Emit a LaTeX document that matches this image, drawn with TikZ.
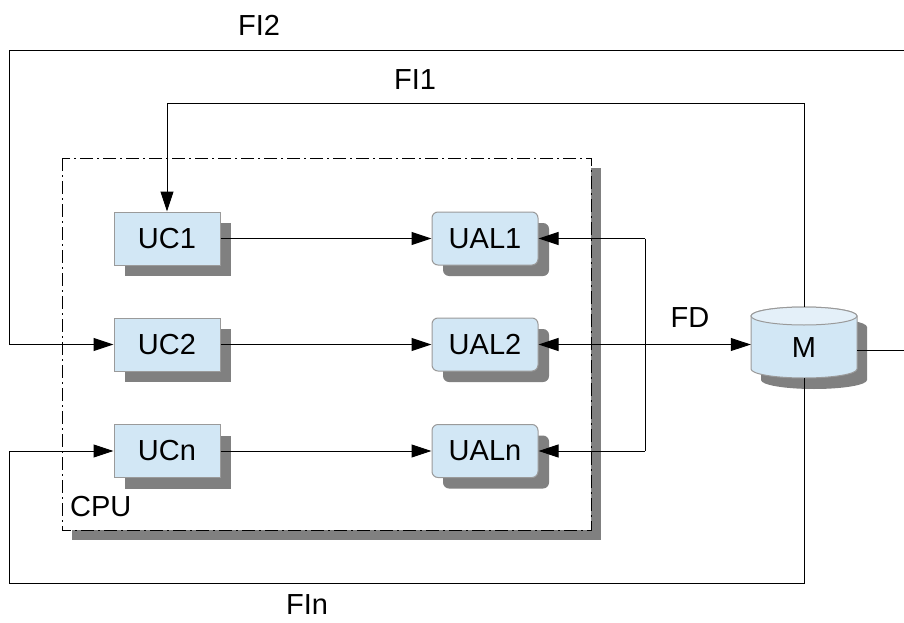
\documentclass[tikz,border=0pt]{standalone}
\usepackage{fontspec}
\setmainfont{Liberation Sans}
\usetikzlibrary{arrows.meta,shadows,positioning}
\definecolor{boxfill}{HTML}{D2E7F5}
\definecolor{boxline}{HTML}{9A9A9A}
\definecolor{shadowgray}{HTML}{808080}
\definecolor{topfill}{HTML}{E4F0F9}
\tikzset{
  shad/.style={drop shadow={shadow xshift=11pt,shadow yshift=-11pt,fill=shadowgray,opacity=1}},
  ucbox/.style={draw=boxline,line width=1pt,fill=boxfill,minimum width=106pt,minimum height=53pt,inner sep=0pt,shad,font=\fontsize{29}{32}\selectfont},
  ualbox/.style={ucbox,rounded corners=6pt},
  conn/.style={line width=1pt,draw=black},
  arr/.style={conn,-{Triangle[length=20pt,width=13pt]}},
  lbl/.style={font=\fontsize{29}{32}\selectfont,inner sep=0pt},
}
\begin{document}
\begin{tikzpicture}[x=1pt,y=-1pt]
\useasboundingbox (0,0) rectangle (904,623);
% CPU box
\fill[shadowgray] (72,168) rectangle (601,540);
\draw[fill=white,line width=1pt,dash pattern=on 13pt off 4pt on 2pt off 4pt] (62,158) rectangle (591,530);
\node[lbl,anchor=west] (cpu) at (70,507) {CPU};
% UC nodes
\node[ucbox] (uc1) at (167,238.5) {UC1};
\node[ucbox] (uc2) at (167,344.5) {UC2};
\node[ucbox] (ucn) at (167,451) {UCn};
\node[ualbox] (ual1) at (485,238.5) {UAL1};
\node[ualbox] (ual2) at (485,344.5) {UAL2};
\node[ualbox] (ualn) at (485,451) {UALn};
% M cylinder
\node[minimum width=106pt,minimum height=71pt,inner sep=0pt] (M) at (804,342.5) {};
\fill[shadowgray] (761,327) -- (761,380) arc[start angle=180,end angle=360,x radius=53,y radius=-9] -- (867,327) -- cycle;
\fill[shadowgray] (814,327) ellipse[x radius=53,y radius=9];
\draw[boxline,line width=1pt,fill=boxfill] (751,316) -- (751,369) arc[start angle=180,end angle=360,x radius=53,y radius=-9] -- (857,316) arc[start angle=0,end angle=180,x radius=53,y radius=-9] -- cycle;
\draw[boxline,line width=1pt,fill=topfill] (804,316) ellipse[x radius=53,y radius=9];
\node[lbl] (mlabel) at (804,348) {M};
% coordinates
\coordinate (tl) at (9,51);
\coordinate (tr) at (904,51);
\coordinate (mr) at (904,350);
\coordinate (l2) at (9,344.5);
\coordinate (f1a) at (804,104);
\coordinate (f1b) at (167,104);
\coordinate (fna) at (804,583);
\coordinate (fnb) at (9,583);
\coordinate (fnc) at (9,451);
\coordinate (fdj) at (645,344.5);
\coordinate (fdt) at (645,238.5);
\coordinate (fdb) at (645,451);
% connectors
\draw[conn] (tr) -- (tl) -- (l2);
\draw[arr] (l2) -- (uc2.west);
\draw[conn] (M.east |- mr) -- (mr);
\draw[arr] (M.north) -- (f1a) -- (f1b) -- (uc1.north);
\draw[arr] (M.south) -- (fna) -- (fnb) -- (fnc) -- (ucn.west);
\draw[arr] (uc1.east) -- (ual1.west);
\draw[arr] (uc2.east) -- (ual2.west);
\draw[arr] (ucn.east) -- (ualn.west);
\draw[arr] (fdj) -- (M.west |- fdj);
\draw[arr] (fdt) -- (ual1.east);
\draw[arr] (fdj) -- (ual2.east);
\draw[arr] (fdb) -- (ualn.east);
\draw[conn] (fdt) -- (fdb);
% labels
\node[lbl] (fi2) at (259,25) {FI2};
\node[lbl] (fi1) at (415,80) {FI1};
\node[lbl] (fd) at (690,318) {FD};
\node[lbl] (fin) at (307,605) {FIn};
\end{tikzpicture}
\end{document}
